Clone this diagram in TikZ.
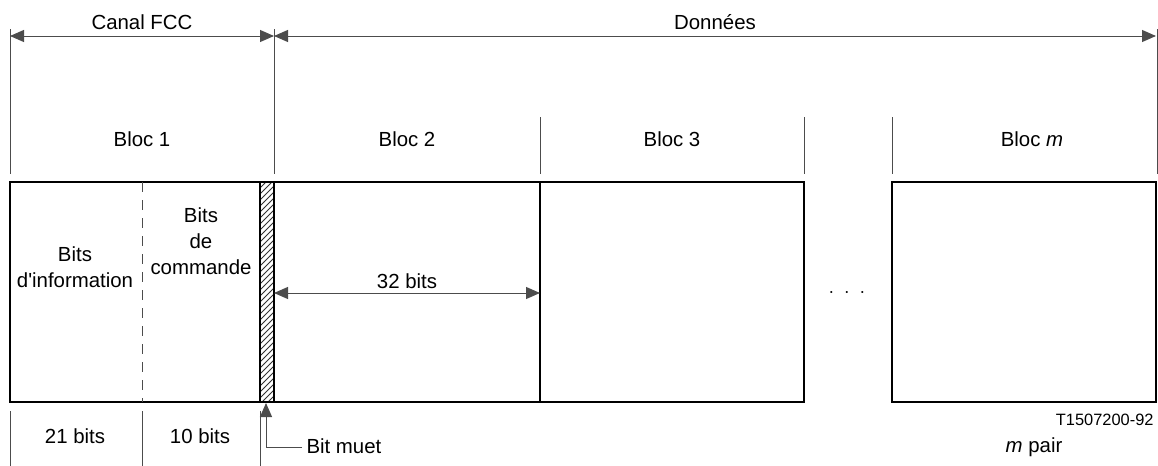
\documentclass[tikz,border=0pt]{standalone}
\usepackage{fontspec}
\setmainfont{Liberation Sans}
\usetikzlibrary{arrows.meta,patterns}

\tikzset{every picture/.style={line width=0.5pt}}
\tikzset{
  dim/.style={draw=black!70,line width=0.5pt},
  dimarrow/.style={dim,{Triangle[length=7pt,width=6pt]}-{Triangle[length=7pt,width=6pt]}},
  blk/.style={draw=black,line width=0.7pt},
  lbl/.style={inner sep=0pt,font=\fontsize{10.2}{13}\selectfont},
  small/.style={inner sep=0pt,font=\fontsize{8.2}{10}\selectfont}
}

\begin{document}
\begin{tikzpicture}[x=0.5pt,y=0.5pt,yscale=-1,xscale=1]
\useasboundingbox (0,0) rectangle (1158,466);

%Coordinates of the frame
\coordinate (fccL) at (10,36);
\coordinate (fccR) at (274,36);
\coordinate (datR) at (1156,36);

%Straight Lines: top extension lines
\draw [dim] (10,29) -- (10,174);
\draw [dim] (274,29) -- (274,174);
\draw [dim] (1157,29) -- (1157,174);
\draw [dim] (540,117) -- (540,174);
\draw [dim] (804,117) -- (804,174);
\draw [dim] (892,117) -- (892,174);

%Dimension arrows
\draw [dimarrow] (fccL) -- (fccR);
\draw [dimarrow] (fccR) -- (datR);

%Shape: Hatched stripe (bit muet)
\draw [blk,pattern=north east lines,pattern color=black!80] (260,182) rectangle (274,402);

%Shape: Blocs
\draw [blk] (10,182) rectangle (804,402);
\draw [blk,line width=1pt] (540,182) -- (540,402);
\draw [blk] (892,182) rectangle (1156,402);
\draw [dim,dash pattern={on 5pt off 4pt}] (142,182) -- (142,402);

%32 bits arrow
\coordinate (b2L) at (274,293);
\coordinate (b2R) at (540,293);
\draw [dimarrow] (b2L) -- (b2R);

%Straight Lines: bottom extension lines
\draw [dim] (10,411) -- (10,466);
\draw [dim] (142,411) -- (142,466);
\draw [dim] (260,411) -- (260,466);

%Bit muet leader
\coordinate (mutetip) at (266,403);
\draw [dim,-{Triangle[length=7pt,width=6pt]}] (302,447) -- (266,447) -- (mutetip);

% Text Node
\draw (142,29) node [anchor=base,lbl] (canal) {Canal FCC};
% Text Node
\draw (715,29) node [anchor=base,lbl] (donnees) {Données};
% Text Node
\draw (142,146) node [anchor=base,lbl] (bloc1) {Bloc 1};
% Text Node
\draw (407,146) node [anchor=base,lbl] (bloc2) {Bloc 2};
% Text Node
\draw (672,146) node [anchor=base,lbl] (bloc3) {Bloc 3};
% Text Node
\draw (1032,146) node [anchor=base,lbl] (blocm) {Bloc \textit{m}};
% Text Node
\draw (75,287) node [anchor=base,lbl,align=center] (info) {Bits\\d\textquotesingle information};
% Text Node
\draw (201,274) node [anchor=base,lbl,align=center] (cmd) {Bits\\de\\commande};
% Text Node
\draw (407,288) node [anchor=base,lbl] (bits32) {32 bits};
% Text Node
\draw (847,293) node [lbl] (dots) {$\cdot\;\cdot\;\cdot$};
% Text Node
\draw (75,443) node [anchor=base,lbl] (bits21) {21 bits};
% Text Node
\draw (200,443) node [anchor=base,lbl] (bits10) {10 bits};
% Text Node
\draw (306,453) node [anchor=base west,lbl] (muet) {Bit muet};
% Text Node
\draw (1154,425) node [anchor=base east,small] (ref) {T1507200-92};
% Text Node
\draw (1034,452) node [anchor=base,lbl] (mpair) {\textit{m} pair};

\end{tikzpicture}
\end{document}
